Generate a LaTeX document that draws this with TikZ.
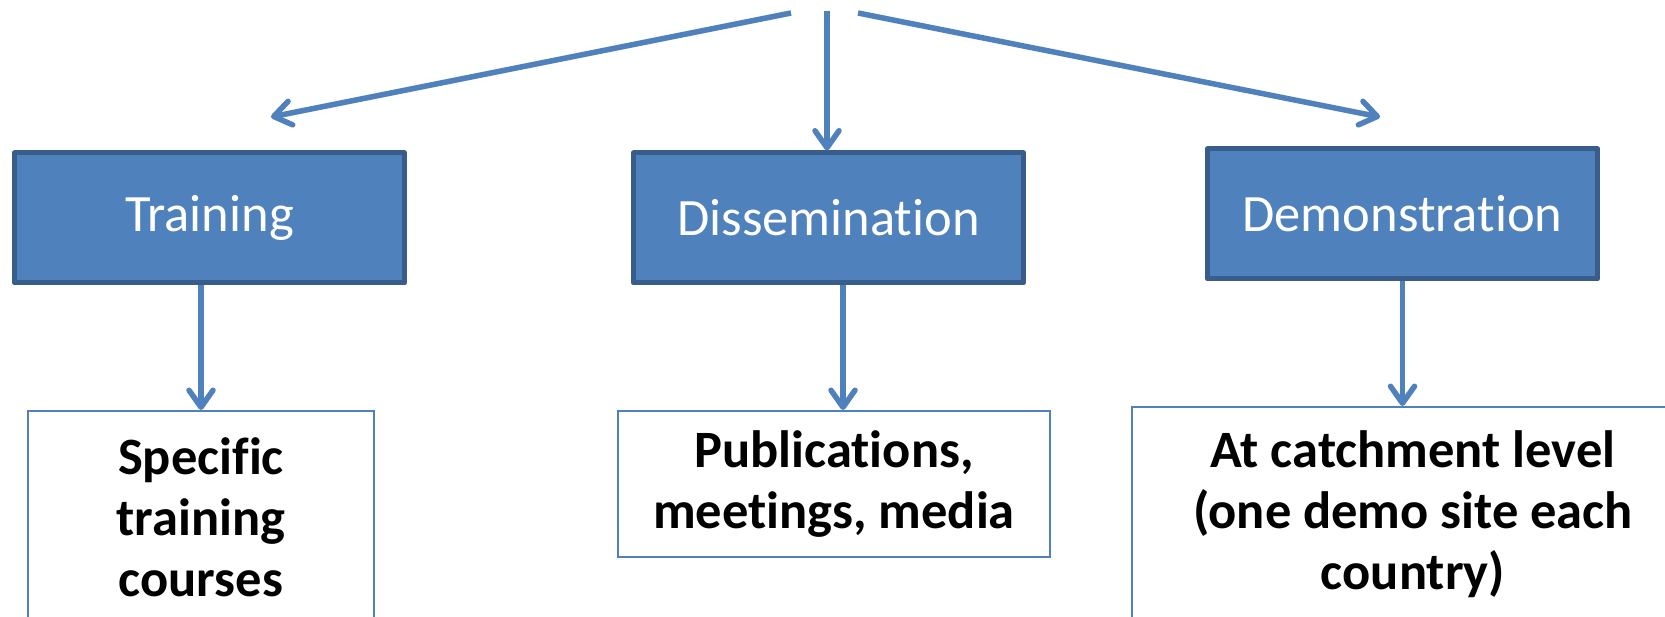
\documentclass[tikz,border=0pt]{standalone}
\usepackage{fontspec}
\setmainfont{Carlito}[Ligatures={NoCommon}]
\usetikzlibrary{arrows.meta}
\definecolor{accent}{HTML}{4F81BD}
\definecolor{accentdark}{HTML}{385D8A}
\begin{document}
\begin{tikzpicture}[x=1pt,y=-1pt,
  head/.style={draw=accentdark, fill=accent, line width=5pt, line join=round,
    text=white, font=\fontsize{52.5}{61}\selectfont, inner sep=0pt,
    minimum width=390pt, minimum height=130pt},
  leaf/.style={draw=accent, fill=white, line width=2pt, align=center,
    font=\fontsize{52.5}{61}\selectfont\bfseries, inner sep=0pt},
  conn/.style={draw=accent, line width=5.5pt,
    -{Straight Barb[length=17pt,width=24pt,round]}}
]
\useasboundingbox (0,0) rectangle (1665,617);
\clip (0,0) rectangle (1665,617);
\fill[white] (0,0) rectangle (1665,617);

\node[head] (train) at (209.5,218) {Training};
\node[head] (diss) at (828.5,218) {Dissemination};
\node[head] (demo) at (1402.5,214) {Demonstration};

\node[leaf, minimum width=346pt, minimum height=212pt] (spec) at (201,517)
  {Specific\\training\\courses};
\node[leaf, minimum width=432pt, minimum height=146pt] (pub) at (834,484)
  {Publications,\\meetings, media};
\node[leaf, minimum width=562pt, minimum height=214pt] (cat) at (1413,514)
  {At catchment level\\(one demo site each\\country)};

\coordinate (sl) at (791,13);
\coordinate (sm) at (827,11);
\coordinate (sr) at (858,13);
\coordinate (tl) at (271,117);
\coordinate (tr) at (1380,117);

\draw[conn] (sl) -- (tl);
\draw[conn] (sm) -- (sm |- diss.north);
\draw[conn] (sr) -- (tr);

\draw[conn] (spec.north |- train.south) -- (spec.north);
\draw[conn] ([xshift=9pt]pub.north |- diss.south) -- ([xshift=9pt]pub.north);
\draw[conn] (demo.south) -- (demo.south |- cat.north);
\end{tikzpicture}
\end{document}
